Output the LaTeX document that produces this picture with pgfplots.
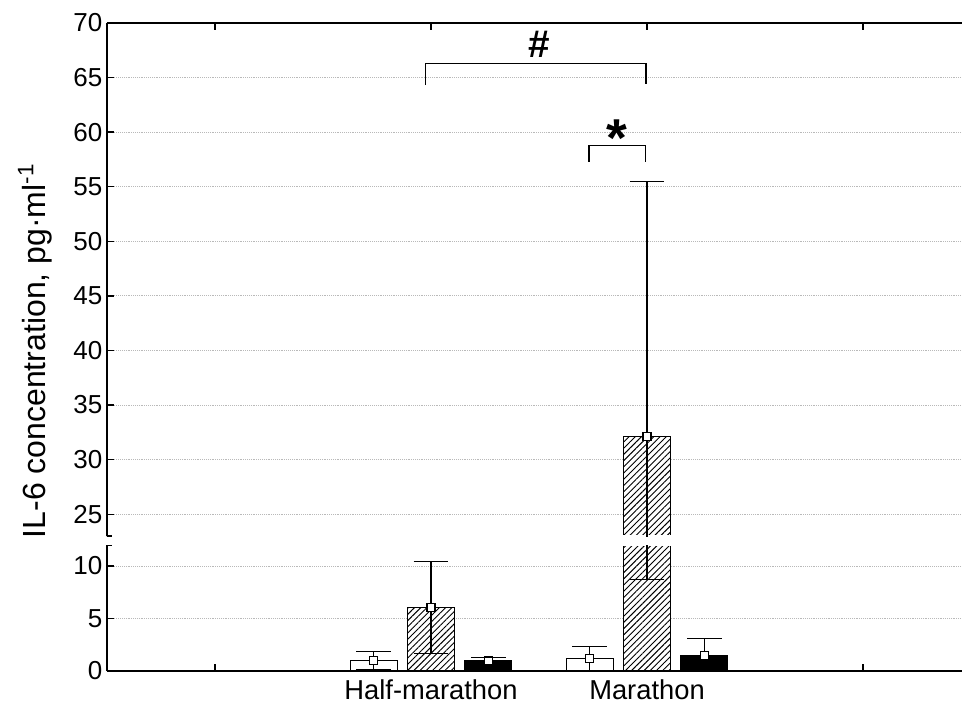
\documentclass[border=0pt]{standalone}
\usepackage{pgfplots}
\pgfplotsset{compat=1.18}
\usepackage{fontspec}
\setmainfont{Liberation Sans}
\usetikzlibrary{patterns.meta}

\pgfplotsset{
  ilbase/.style={
    scale only axis, width=648pt, xmin=-0.5, xmax=3.5,
    xtick={0,1,2,3}, tick align=inside, major tick length=5pt,
    axis line style={line width=1.1pt},
    tick style={line width=1pt, black},
    axis y line*=left,
    ymajorgrids, major grid style={densely dotted, gray!55, line width=0.6pt},
    tick label style={font=\fontsize{19.5}{22}\selectfont},
    /pgf/number format/assume math mode=true,
  },
  whitebar/.style={ybar, bar width=35.25pt, bar shift=0pt, draw=black, fill=white, line width=0.8pt},
  hatchbar/.style={ybar, bar width=35.25pt, bar shift=0pt, draw=black, fill=white, line width=0.8pt,
    postaction={pattern={Lines[angle=45, distance=3.3pt, line width=0.7pt]}}},
  blackbar/.style={ybar, bar width=35.25pt, bar shift=0pt, draw=black, fill=black, line width=0.8pt},
  whisk/.style={only marks, mark=none, black,
    error bars/.cd, y dir=both, y explicit,
    error bar style={line width=0.8pt, black},
    error mark options={rotate=90, mark size=13pt, line width=0.8pt, black}},
  meanpt/.style={only marks, mark=square*, mark size=3pt,
    mark options={fill=white, draw=black, line width=0.8pt}},
}

\begin{document}
\begin{tikzpicture}
% lower segment of the broken y axis: 0 to 12
\begin{axis}[ilbase, name=lower, at={(0pt,0pt)}, anchor=south west,
  height=94.5pt, ymin=0, ymax=12, ytick={0,5,10},
  axis x line*=bottom,
  xticklabels={,Half-marathon,Marathon,},
  xticklabel style={font=\fontsize{20.5}{24}\selectfont, yshift=-3pt}]
  % before the run
  \addplot[whitebar] coordinates {(0.734,1.0) (1.734,1.2)};
  % after the run
  \addplot[hatchbar] coordinates {(1.0,6.05) (2.0,32.1)};
  % recovery
  \addplot[blackbar] coordinates {(1.266,0.95) (2.266,1.5)};
  % the tall bar continues above the break: no top edge here
  \fill[white] ([yshift=-0.7pt]axis cs:1.86,12) rectangle ([yshift=1pt]axis cs:2.14,12);
  \addplot[whisk] coordinates {
    (0.734,1.0) +- (0,0.9)
    (1.0,6.05) +- (0,4.35)
    (1.266,0.95) +- (0,0.35)
    (1.734,1.2) +- (0,1.15)
    (2.0,32.1) +- (0,23.4)
    (2.266,1.5) +- (0,1.6)};
  \addplot[meanpt] coordinates {(0.734,1.0) (1.0,6.05) (1.266,0.95) (1.734,1.2) (2.266,1.5)};
  \draw[line width=1.1pt] ([xshift=-4pt]rel axis cs:0,1) -- ([xshift=4pt]rel axis cs:0,1);
\end{axis}

% upper segment of the broken y axis: 23 to 70
\begin{axis}[ilbase, name=upper, at={(0pt,101.25pt)}, anchor=south west,
  height=384.75pt, ymin=23, ymax=70, ytick={25,30,...,70},
  axis x line*=top, xticklabels={}]
  \addplot[hatchbar] coordinates {(2.0,32.1)};
  % the bar comes up from below the break: no bottom edge here
  \fill[white] ([yshift=-1pt]axis cs:1.86,23) rectangle ([yshift=0.7pt]axis cs:2.14,23);
  \addplot[whisk] coordinates {(2.0,32.1) +- (0,23.4)};
  \addplot[meanpt] coordinates {(2.0,32.1)};
  \draw[line width=1.1pt] ([xshift=-4pt]rel axis cs:0,0) -- ([xshift=4pt]rel axis cs:0,0);
  % significance brackets
  \draw[line width=0.9pt] (axis cs:0.975,64.3) -- (axis cs:0.975,66.3) -- (axis cs:1.995,66.3) -- (axis cs:1.995,64.4);
  \node[font=\fontsize{29}{30}\selectfont\bfseries, anchor=south, inner sep=1pt] at (axis cs:1.5,66.7) {\#};
  \draw[line width=0.9pt] (axis cs:1.731,57.3) -- (axis cs:1.731,58.8) -- (axis cs:1.994,58.8) -- (axis cs:1.994,57.3);
  \node[font=\fontsize{40}{40}\selectfont\bfseries, anchor=north] at (axis cs:1.862,61.6) {*};
\end{axis}

\node[rotate=90, font=\fontsize{24}{28}\selectfont] at (-54pt,240pt) {IL-6 concentration, pg·ml\textsuperscript{-1}};

\pgfresetboundingbox
\path[use as bounding box] (-80.25pt,-30pt) rectangle (641.25pt,503.25pt);
\end{tikzpicture}
\end{document}
